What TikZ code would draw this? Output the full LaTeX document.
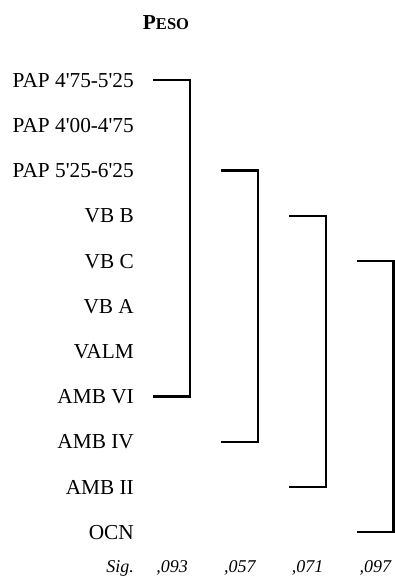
\documentclass[tikz,border=0pt]{standalone}
\usepackage{fontspec}
\newfontfamily\labfont{Liberation Serif}

\begin{document}
\begin{tikzpicture}[x=1pt,y=-1pt,
    rowlab/.style={anchor=east,inner sep=0pt,text height=14.5pt,text depth=0pt,
      font=\labfont\fontsize{21.3}{24}\selectfont},
    sigval/.style={anchor=base east,inner sep=0pt,
      font=\labfont\itshape\fontsize{18}{20}\selectfont},
    bracket/.style={line width=2.2pt}]
  \useasboundingbox (0,0) rectangle (395,576);

  \node[anchor=base,inner sep=0pt,font=\labfont\bfseries] (title) at (166,29)
    {\fontsize{21.3}{24}\selectfont P\fontsize{16.5}{20}\selectfont ESO};

  % grupos
  \foreach \lab [count=\i from 0] in {PAP 4'75-5'25,PAP 4'00-4'75,PAP 5'25-6'25,
      VB B,VB C,VB A,VALM,AMB VI,AMB IV,AMB II,OCN} {
    \node[rowlab] (r\i) at (134,{80+45.2*\i}) {\lab};
  }

  % subconjuntos homogeneos
  \foreach \c/\top/\bot/\sig in {0/0/7/093,1/2/8/057,2/3/9/071,3/4/10/097} {
    \coordinate (s\c a) at ({153+68*\c},0);
    \coordinate (s\c b) at ({190+67.8*\c},0);
    \draw[bracket] (s\c a |- r\top.east) -| (s\c b |- r\bot.east) -- (s\c a |- r\bot.east);
    \node[sigval] (sig\c) at ([xshift=-2pt]s\c b |- 0,572) {,\sig};
  }
  \node[sigval] (sig) at (134,572) {Sig.};
\end{tikzpicture}
\end{document}
